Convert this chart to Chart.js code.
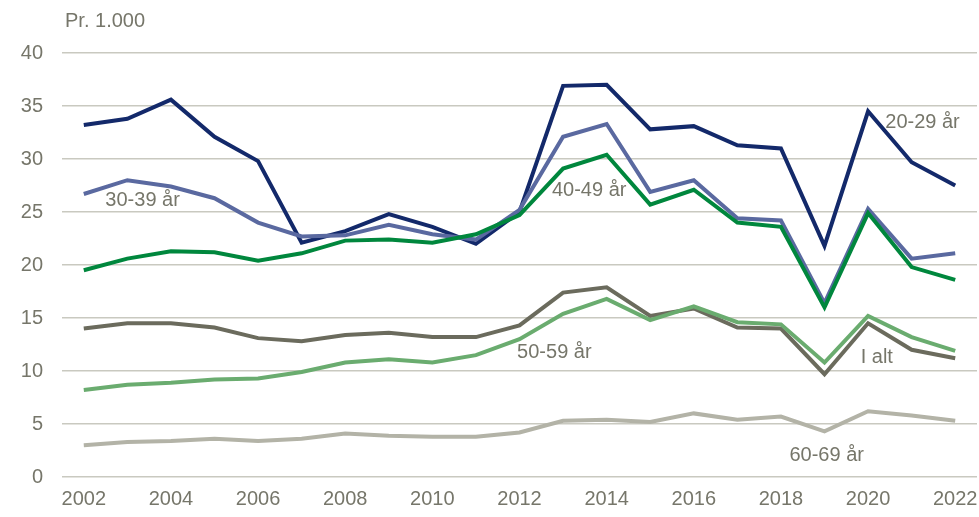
<!DOCTYPE html>
<html>
<head>
<meta charset="utf-8">
<script src="https://cdn.jsdelivr.net/npm/chart.js@4.4.1/dist/chart.umd.min.js"></script>
<style>
html,body{margin:0;padding:0;background:#fff;}
#wrap{width:979px;height:517px;position:relative;}
</style>
</head>
<body>
<div id="wrap"><canvas id="c" width="979" height="517"></canvas></div>
<script>
const years = ['2002','2003','2004','2005','2006','2007','2008','2009','2010','2011','2012','2013','2014','2015','2016','2017','2018','2019','2020','2021','2022'];
const age20_29 = [33.2,33.8,35.6,32.1,29.8,22.1,23.2,24.8,23.6,22.0,25.0,36.9,37.0,32.8,33.1,31.3,31.0,21.8,34.5,29.7,27.5];
const age30_39 = [26.7,28.0,27.4,26.3,24.0,22.7,22.8,23.8,22.9,22.4,25.2,32.1,33.3,26.9,28.0,24.4,24.2,16.4,25.3,20.6,21.1];
const age40_49 = [19.5,20.6,21.3,21.2,20.4,21.1,22.3,22.4,22.1,22.9,24.7,29.1,30.4,25.7,27.1,24.0,23.6,16.0,24.9,19.8,18.6];
const iAlt     = [14.0,14.5,14.5,14.1,13.1,12.8,13.4,13.6,13.2,13.2,14.3,17.4,17.9,15.2,15.9,14.1,14.0,9.7,14.5,12.0,11.2];
const age50_59 = [8.2,8.7,8.9,9.2,9.3,9.9,10.8,11.1,10.8,11.5,13.0,15.4,16.8,14.8,16.1,14.6,14.4,10.8,15.2,13.2,11.9];
const age60_69 = [3.0,3.3,3.4,3.6,3.4,3.6,4.1,3.9,3.8,3.8,4.2,5.3,5.4,5.2,6.0,5.4,5.7,4.3,6.2,5.8,5.3];
const yTicks = [0,5,10,15,20,25,30,35,40];
const unitLabel = 'Pr. 1.000';
// series labels placed in data coordinates: [text, category index, value]
const seriesLabels = [
  ['20-29 år', 19.25, 33.4],
  ['30-39 år', 1.35, 26.1],
  ['40-49 år', 11.6, 27.0],
  ['50-59 år', 10.8, 11.7],
  ['I alt', 18.2, 11.3],
  ['60-69 år', 17.05, 2.0]
];

const FONT = "'Liberation Sans Narrow','Arial Narrow','Liberation Sans',Arial,sans-serif";
const TXT = '#76766a';

const labelPlugin = {
  id: 'labelPlugin',
  afterDatasetsDraw(chart) {
    const ctx = chart.ctx;
    const xs = chart.scales.x, ys = chart.scales.y;
    ctx.save();
    ctx.font = '20px ' + FONT;
    ctx.fillStyle = TXT;
    ctx.textAlign = 'center';
    ctx.textBaseline = 'middle';
    seriesLabels.forEach(([t, xi, v]) => {
      const i0 = Math.floor(xi), f = xi - i0;
      const px = xs.getPixelForValue(i0) + f * (xs.getPixelForValue(i0 + 1) - xs.getPixelForValue(i0));
      ctx.fillText(t, px, ys.getPixelForValue(v));
    });
    ctx.textAlign = 'left';
    ctx.fillText(unitLabel, chart.chartArea.left + 3, 21);
    ctx.restore();
  }
};

const mk = (label, data, color) => ({
  label, data, borderColor: color, backgroundColor: color,
  borderWidth: 4, pointRadius: 0, tension: 0, fill: false,
  borderCapStyle: 'butt', borderJoinStyle: 'miter'
});

new Chart(document.getElementById('c'), {
  type: 'line',
  data: {
    labels: years,
    datasets: [
      mk('60-69 år', age60_69, '#b3b3a7'),
      mk('50-59 år', age50_59, '#6aac6f'),
      mk('I alt', iAlt, '#6b6b5d'),
      mk('40-49 år', age40_49, '#00873d'),
      mk('30-39 år', age30_39, '#5a69a0'),
      mk('20-29 år', age20_29, '#13296a')
    ]
  },
  options: {
    responsive: false,
    animation: false,
    layout: { padding: { top: 53, right: 2, left: 0, bottom: 0 } },
    plugins: { legend: { display: false }, tooltip: { enabled: false }, title: { display: false } },
    scales: {
      x: {
        offset: true,
        grid: { display: false, drawTicks: false },
        border: { display: false },
        ticks: {
          autoSkip: false, maxRotation: 0, padding: 10,
          color: TXT, font: { family: FONT, size: 20 },
          callback: function(v, i) { return i % 2 === 0 ? years[i] : ''; }
        },
        afterFit(s) { s.height = 40; s.paddingLeft = 0; s.paddingRight = 0; }
      },
      y: {
        min: 0, max: 40,
        afterBuildTicks(s) { s.ticks = yTicks.map(v => ({ value: v })); },
        grid: { color: '#c9c9c0', lineWidth: 1.5, drawTicks: false },
        border: { display: false },
        ticks: { padding: 19, color: TXT, font: { family: FONT, size: 20 } },
        afterFit(s) { s.width = 62; s.paddingTop = 0; s.paddingBottom = 0; }
      }
    }
  },
  plugins: [labelPlugin]
});
</script>
</body>
</html>
